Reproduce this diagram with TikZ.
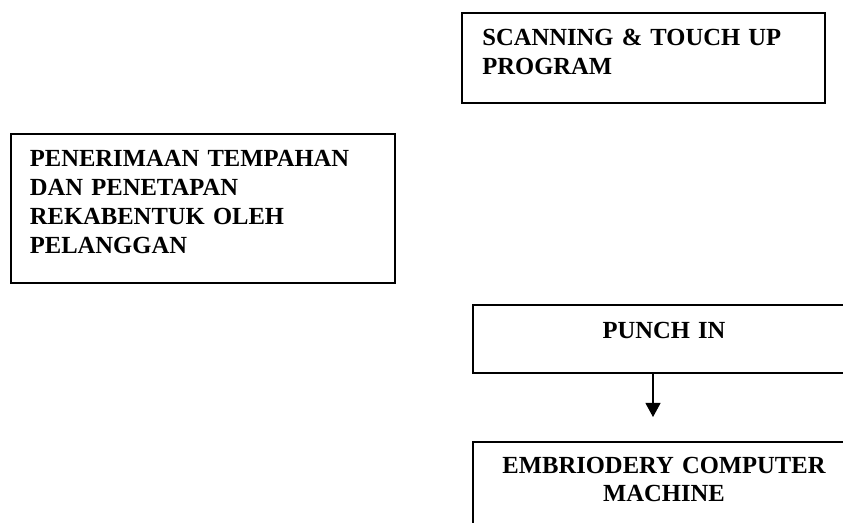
\documentclass[tikz,border=0pt]{standalone}
\usepackage{fontspec}
\setmainfont{Liberation Serif}
\usepackage{tikz}
\usetikzlibrary{arrows.meta,positioning}
\tikzset
{
    stagebox/.style  = {rectangle, draw=black, line width=1.1pt, anchor=north west, inner sep=0pt},
    stagetext/.style = {inner sep=0pt, text width=7.4cm, font=\fontsize{14}{16.4}\selectfont\bfseries},
    flow/.style      = {-{Triangle[width=0.3cm,length=0.28cm]}, line width=0.6pt}
}
\begin{document}
\begin{tikzpicture}
	\useasboundingbox (0,0) rectangle (16.86,-10.46);
	\clip (0,0) rectangle (16.86,-10.46);
	% boxes
	\node[stagebox, minimum width=7.26cm, minimum height=1.8cm] (scan) at (9.22,-0.24) {};
	\node[stagebox, minimum width=7.68cm, minimum height=2.98cm] (order) at (0.2,-2.66) {};
	\node[stagebox, minimum width=7.68cm, minimum height=1.36cm] (punch) at (9.44,-6.08) {};
	\node[stagebox, minimum width=7.68cm, minimum height=2.4cm] (machine) at (9.44,-8.82) {};
	% texts
	\node[stagetext, align=left, anchor=base west] (scantxt) at (9.64,-0.92)
		{SCANNING \& TOUCH UP\\PROGRAM};
	\node[stagetext, align=left, anchor=base west] (ordertxt) at (0.59,-3.34)
		{PENERIMAAN TEMPAHAN\\DAN PENETAPAN\\REKABENTUK OLEH\\PELANGGAN};
	\node[stagetext, align=center, anchor=base] (punchtxt) at (13.28,-6.78) {PUNCH IN};
	\node[stagetext, align=center, anchor=base] (machinetxt) at (13.28,-9.46)
		{EMBRIODERY COMPUTER\\MACHINE};
	% arrow
	\coordinate (tip) at (13.06,-8.34);
	\draw[flow] (punch.south -| tip) -- (tip);
\end{tikzpicture}
\end{document}
